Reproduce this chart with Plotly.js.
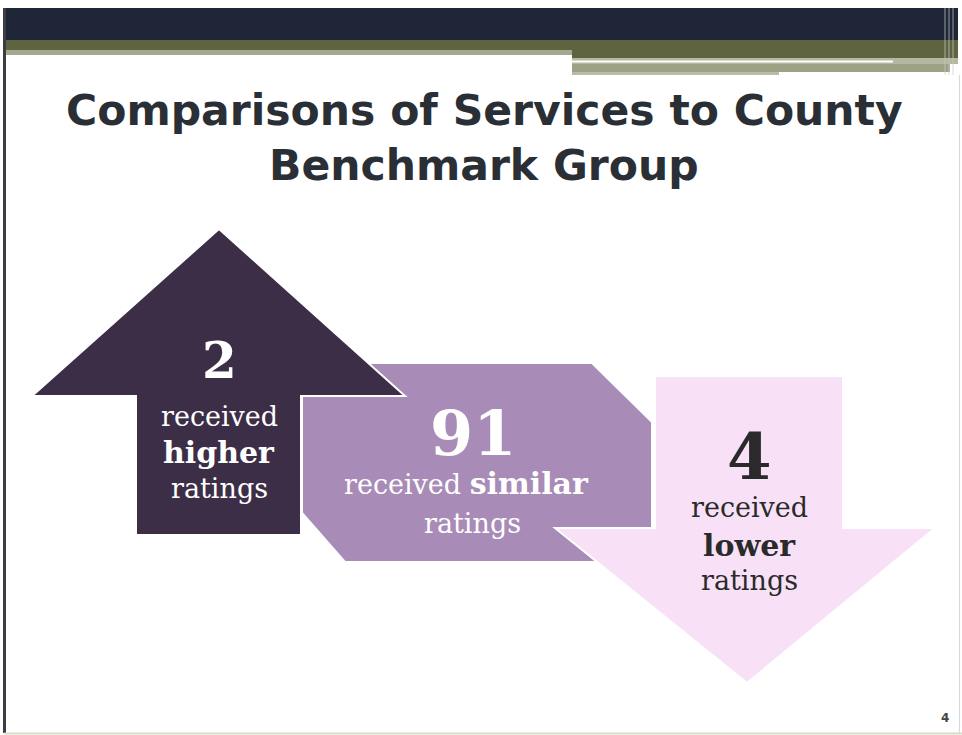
<!DOCTYPE html>
<html>
<head>
<meta charset="utf-8">
<script src="https://cdn.plot.ly/plotly-3.0.1.min.js"></script>
<style>
html,body{margin:0;padding:0;background:#ffffff;}
#chart{width:962px;height:735px;}
</style>
</head>
<body>
<div id="chart"></div>
<script>
// ---- data ----
const categories = ['higher', 'similar', 'lower'];
const counts = [2, 91, 4];
const labelLines = [
  ['received', '{b}higher', 'ratings'],
  ['received {b}similar', 'ratings'],
  ['received', '{b}lower', 'ratings']
];
const titleLines = ['Comparisons of Services to County', 'Benchmark Group'];
const slideNumber = '4';

// ---- styling / layout config ----
const fills = ['#3d2e47', '#a98bb7', '#f8e1f6'];
const textColors = ['#ffffff', '#ffffff', '#2a2a2a'];
const numberSizes = [50, 62, 64];
const numberPos = [[219, 360], [473, 433], [749, 456]];
const linePos = [
  [[219, 416], [219, 452], [219, 488]],
  [[466, 483], [472, 523]],
  [[749, 507], [749, 545], [749, 580]]
];
const titlePos = [[484, 110], [484, 165]];
// arrow outlines in slide pixels
const shapePaths = [
  'M219,229 L405,396 L301,396 L301,535 L136,535 L136,396 L32,396 Z',
  'M302,363 L592,363 L652,422 L652,562 L345,562 L302,513 Z',
  'M655,376 L843,376 L843,528 L935,528 L747,683 L555,528 L655,528 Z'
];
const drawOrder = [1, 2, 0];

function fmtLine(t) {
  // '{b}word' -> larger bold word (Georgia bold runs wider)
  return t.replace(/\{b\}(\S+)/, '<span style="font-size:30px"><b>$1</b></span>');
}

const shapes = [];
// header bands
shapes.push({type:'rect', xref:'x', yref:'y', x0:3, x1:958, y0:8, y1:40, fillcolor:'#1f2638', line:{width:0}, layer:'below'});
shapes.push({type:'rect', xref:'x', yref:'y', x0:3, x1:958, y0:40, y1:50, fillcolor:'#5f6440', line:{width:0}, layer:'below'});
shapes.push({type:'rect', xref:'x', yref:'y', x0:3, x1:572, y0:50, y1:55, fillcolor:'#a3a88e', line:{width:0}, layer:'below'});
shapes.push({type:'rect', xref:'x', yref:'y', x0:572, x1:958, y0:50, y1:58, fillcolor:'#5f6440', line:{width:0}, layer:'below'});
shapes.push({type:'rect', xref:'x', yref:'y', x0:572, x1:958, y0:58, y1:64, fillcolor:'#b4b89f', line:{width:0}, layer:'below'});
shapes.push({type:'rect', xref:'x', yref:'y', x0:572, x1:893, y0:60.5, y1:62.5, fillcolor:'#ffffff', line:{width:0}, layer:'below'});
shapes.push({type:'rect', xref:'x', yref:'y', x0:572, x1:950, y0:64, y1:72, fillcolor:'#9ea184', line:{width:0}, layer:'below'});
shapes.push({type:'rect', xref:'x', yref:'y', x0:572, x1:779, y0:72, y1:75, fillcolor:'#b9bca6', line:{width:0}, layer:'below'});
[945, 949, 953].forEach(function(xv){
  shapes.push({type:'line', xref:'x', yref:'y', x0:xv, x1:xv, y0:8, y1:75, line:{color:'#c9ccc8', width:1.2}, opacity:0.6, layer:'below'});
});
// borders
shapes.push({type:'line', xref:'x', yref:'y', x0:4.5, x1:4.5, y0:8, y1:733, line:{color:'#3a3d42', width:3}});
shapes.push({type:'line', xref:'x', yref:'y', x0:4, x1:962, y0:733.5, y1:733.5, line:{color:'#d9dcc6', width:2}});
shapes.push({type:'line', xref:'x', yref:'y', x0:959.5, x1:959.5, y0:75, y1:733, line:{color:'#dadada', width:1.2}});

// arrows
drawOrder.forEach(function(i){
  shapes.push({type:'path', xref:'x', yref:'y', path:shapePaths[i], fillcolor:fills[i], line:{color:'#ffffff', width:2}});
});

const annotations = [];
titleLines.forEach(function(t, j){
  annotations.push({
    xref:'x', yref:'y', x:titlePos[j][0], y:titlePos[j][1], text:'<b>' + t + '</b>', showarrow:false,
    xanchor:'center', yanchor:'middle',
    font:{family:'DejaVu Sans, Verdana, sans-serif', size:42.5, color:'#2a2f36'}
  });
});
categories.forEach(function(c, i){
  annotations.push({
    xref:'x', yref:'y', x:numberPos[i][0], y:numberPos[i][1],
    text:'<b>' + counts[i] + '</b>', showarrow:false,
    xanchor:'center', yanchor:'middle',
    font:{family:'DejaVu Serif, Georgia, serif', size:numberSizes[i], color:textColors[i]}
  });
  labelLines[i].forEach(function(t, j){
    annotations.push({
      xref:'x', yref:'y', x:linePos[i][j][0], y:linePos[i][j][1],
      text:fmtLine(t), showarrow:false, xanchor:'center', yanchor:'middle',
      font:{family:'DejaVu Serif, Georgia, serif', size:27, color:textColors[i]}
    });
  });
});
annotations.push({xref:'x', yref:'y', x:945, y:718, text:'<b>' + slideNumber + '</b>', showarrow:false,
  xanchor:'center', yanchor:'middle', font:{family:'DejaVu Sans, Verdana, sans-serif', size:12, color:'#444444'}});

const layout = {
  width:962, height:735,
  margin:{l:0, r:0, t:0, b:0},
  paper_bgcolor:'#ffffff', plot_bgcolor:'#ffffff',
  showlegend:false,
  xaxis:{range:[0,962], visible:false, fixedrange:true},
  yaxis:{range:[735,0], visible:false, fixedrange:true},
  shapes:shapes,
  annotations:annotations
};

Plotly.newPlot('chart', [{x:[], y:[], type:'scatter', mode:'markers', hoverinfo:'skip'}], layout, {displayModeBar:false, staticPlot:true});
</script>
</body>
</html>
